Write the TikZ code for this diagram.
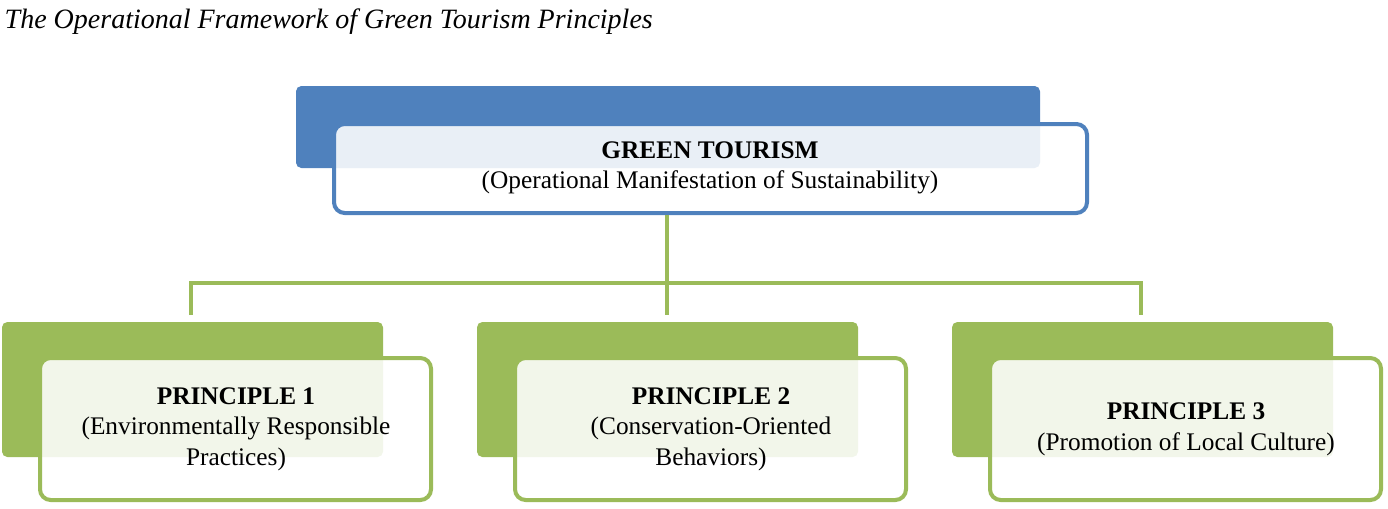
\documentclass[tikz,border=0pt]{standalone}
\usepackage{fontspec}
\setmainfont{Liberation Serif}
\usetikzlibrary{positioning}
\definecolor{gblue}{HTML}{4F81BD}
\definecolor{ggreen}{HTML}{9BBB59}
\tikzset{
  back/.style={rounded corners=4pt},
  front/.style={rounded corners=8pt, line width=3pt, fill=white, fill opacity=0.88, text opacity=1, align=center, font=\fontsize{19}{22}\selectfont},
  link/.style={ggreen, line width=3.5pt}
}
\begin{document}
\begin{tikzpicture}[x=0.75pt,y=-0.75pt]
  \useasboundingbox (0,0) rectangle (1388,508);
  \node[anchor=west, font=\itshape\fontsize{21}{24}\selectfont] (title) at (0,22) {The Operational Framework of Green Tourism Principles};

  % top box
  \fill[gblue, back] (296,86) rectangle (1040,168);
  \draw[gblue, front] (334,124) rectangle (1087,213);
  \node[font=\fontsize{19}{22}\selectfont, align=center] (top) at (710,168) {\textbf{GREEN TOURISM}\\(Operational Manifestation of Sustainability)};

  % principle boxes
  \foreach \i/\x/\t in {1/0/{\textbf{PRINCIPLE 1}\\(Environmentally Responsible\\Practices)},
                        2/475/{\textbf{PRINCIPLE 2}\\(Conservation-Oriented\\Behaviors)},
                        3/950/{\textbf{PRINCIPLE 3}\\(Promotion of Local Culture)}}
  {
    \fill[ggreen, back] (\x+2,322) rectangle (\x+383,457);
    \draw[ggreen, front] (\x+40,358) rectangle (\x+431,500);
    \node[font=\fontsize{19}{23}\selectfont, align=center] (p\i) at (\x+236,429) {\t};
    \coordinate (c\i) at (\x+191,315);
  }

  % connectors
  \coordinate (hub) at (667,283);
  \draw[link] (667,215) -- (hub);
  \draw[link] (c1) |- (hub) -| (c3);
  \draw[link] (hub) -- (667,315);
\end{tikzpicture}
\end{document}
